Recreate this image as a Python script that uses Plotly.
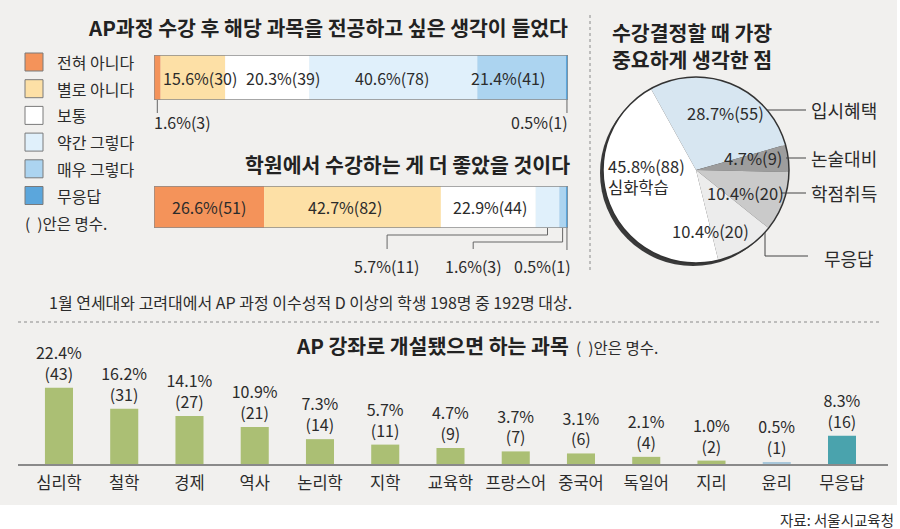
import numpy as np
import plotly.graph_objects as go

W, H = 900, 529
FONT = "Noto Sans CJK KR"
TXT = "#2b2b2b"

# ---- data ----
answer_cats = ["전혀 아니다", "별로 아니다", "보통", "약간 그렇다", "매우 그렇다", "무응답"]
major_pct = [1.6, 15.6, 20.3, 40.6, 21.4, 0.5]
major_n = [3, 30, 39, 78, 41, 1]
academy_pct = [26.6, 42.7, 22.9, 5.7, 1.6, 0.5]
academy_n = [51, 82, 44, 11, 3, 1]

reason_labels = ["입시혜택", "논술대비", "학점취득", "무응답", "심화학습"]
reason_pct = [28.7, 4.7, 10.4, 10.4, 45.8]
reason_n = [55, 9, 20, 20, 88]

subjects = ["심리학", "철학", "경제", "역사", "논리학", "지학", "교육학",
            "프랑스어", "중국어", "독일어", "지리", "윤리", "무응답"]
subject_pct = [22.4, 16.2, 14.1, 10.9, 7.3, 5.7, 4.7, 3.7, 3.1, 2.1, 1.0, 0.5, 8.3]
subject_n = [43, 31, 27, 21, 14, 11, 9, 7, 6, 4, 2, 1, 16]

# ---- styles ----
answer_colors = ["#f4935a", "#fde0a6", "#ffffff", "#e0f0fb", "#acd4f0", "#5ba6dc"]
reason_colors = ["#d7e6f1", "#9d9d9d", "#cacaca", "#ececec", "#ffffff"]
subject_colors = ["#abbf74"] * 11 + ["#a9c8db", "#4aa3ad"]

BAR_L, BAR_R = 154, 568   # pixel span of the stacked bars


def px(x):
    return x / W


def py(y):
    return 1 - y / H


def bx(v):
    # percent position on the stacked bars -> paper x
    return px(BAR_L + v / 100 * (BAR_R - BAR_L))


fig = go.Figure()
shapes = []
ann = []


def note(text, x, y, size=16, xref="paper", yref="paper", xanchor="center",
         align="center", color=TXT):
    ann.append(dict(text=text, x=x, y=y, xref=xref, yref=yref, xanchor=xanchor,
                    yanchor="middle", align=align, showarrow=False,
                    font=dict(family=FONT, size=size, color=color)))


# background panel
shapes.append(dict(type="rect", xref="paper", yref="paper", x0=0, x1=px(897),
                   y0=py(505), y1=1, fillcolor="#f1f0ee", line_width=0, layer="below"))

# ---- stacked horizontal bars ----
bar_specs = [
    # pct, counts, axis suffix, top px, bottom px, label nudges
    (major_pct, major_n, "", 55, 100, [0, 1.7, 3.9, -0.3, -3.3, 0]),
    (academy_pct, academy_n, "2", 186, 228, [0, -1.8, 0.4, 0, 0, 0]),
]
for pct, cnt, sfx, top, bot, nudge in bar_specs:
    pct = np.array(pct)
    starts = np.concatenate([[0], np.cumsum(pct)[:-1]])
    fig.add_trace(go.Bar(x=pct, base=starts, y=[0] * len(pct), orientation="h",
                         width=1, marker=dict(color=answer_colors, line_width=0),
                         xaxis="x" + sfx, yaxis="y" + sfx, hoverinfo="skip",
                         showlegend=False))
    fig.update_layout(**{
        "xaxis" + sfx: dict(domain=[px(BAR_L), px(BAR_R)], range=[0, 100], visible=False,
                            anchor="y" + sfx, fixedrange=True),
        "yaxis" + sfx: dict(domain=[py(bot), py(top)], range=[-0.5, 0.5], visible=False,
                            anchor="x" + sfx, fixedrange=True),
    })
    shapes.append(dict(type="rect", xref="x" + sfx, yref="y" + sfx, x0=0, x1=pct.sum(),
                       y0=-0.5, y1=0.5, line=dict(color="#8a8a8a", width=1.3)))
    for i, (p, n) in enumerate(zip(pct, cnt)):
        if p >= 10:
            note(f"{p}%({n})", starts[i] + p / 2 + nudge[i], 0,
                 xref="x" + sfx, yref="y" + sfx)

# leaders, first bar
mp = np.array(major_pct)
ms = np.concatenate([[0], np.cumsum(mp)[:-1]])
mid0 = ms[0] + mp[0] / 2
mid5 = ms[5] + mp[5] / 2
for m in (mid0, mid5):
    shapes.append(dict(type="line", xref="paper", yref="paper", x0=bx(m), x1=bx(m),
                       y0=py(100), y1=py(113), line=dict(color="#666", width=1)))
note(f"{major_pct[0]}%({major_n[0]})", bx(-0.6), py(122), xanchor="left")
note(f"{major_pct[5]}%({major_n[5]})", bx(100.6), py(122), xanchor="right")

# leaders, second bar
ap = np.array(academy_pct)
ast = np.concatenate([[0], np.cumsum(ap)[:-1]])
leaders = [(3, 235, 56.3), (4, 242, 77.1)]
for i, elbow, lx in leaders:
    m = ast[i] + ap[i] / 2
    shapes.append(dict(type="path", xref="paper", yref="paper",
                       path=(f"M {bx(m)},{py(228)} L {bx(m)},{py(elbow)} "
                             f"L {bx(lx)},{py(elbow)} L {bx(lx)},{py(249)}"),
                       line=dict(color="#666", width=1)))
    note(f"{academy_pct[i]}%({academy_n[i]})", bx(lx), py(266))
m5 = ast[5] + ap[5] / 2
shapes.append(dict(type="line", xref="paper", yref="paper", x0=bx(m5), x1=bx(m5),
                   y0=py(228), y1=py(250), line=dict(color="#666", width=1)))
note(f"{academy_pct[5]}%({academy_n[5]})", bx(101.2), py(266), xanchor="right")

# titles top-left
note("<b>AP과정 수강 후 해당 과목을 전공하고 싶은 생각이 들었다</b>", px(570), py(27),
     size=20.5, xanchor="right", color="#222")
note("<b>학원에서 수강하는 게 더 좋았을 것이다</b>", px(572), py(164),
     size=20.5, xanchor="right", color="#222")

# legend
for i, (cat, col) in enumerate(zip(answer_cats, answer_colors)):
    yc = 62 + i * 26.7
    shapes.append(dict(type="rect", xref="paper", yref="paper", x0=px(25), x1=px(43),
                       y0=py(yc + 9), y1=py(yc - 9), fillcolor=col,
                       line=dict(color="#7a7a7a", width=1)))
    note(cat, px(55), py(yc), xanchor="left")
note("(  )안은 명수.", px(23), py(223), size=15.5, xanchor="left")

note("1월 연세대와 고려대에서 AP 과정 이수성적 D 이상의 학생 198명 중 192명 대상.",
     px(47), py(302), size=16, xanchor="left")

# dividers
shapes.append(dict(type="line", xref="paper", yref="paper", x0=px(590), x1=px(590),
                   y0=py(270), y1=py(14), line=dict(color="#8a8a8a", width=1, dash="dot")))
shapes.append(dict(type="line", xref="paper", yref="paper", x0=px(18), x1=px(882),
                   y0=py(322), y1=py(322), line=dict(color="#8a8a8a", width=1, dash="dot")))

# ---- pie ----
shapes.append(dict(type="circle", xref="paper", yref="paper", x0=px(600), x1=px(786),
                   y0=py(266), y1=py(80), fillcolor="#3a3a3a", line_width=0, layer="below"))
fig.add_trace(go.Pie(values=reason_pct, labels=reason_labels, sort=False,
                     direction="clockwise", rotation=-29,
                     marker=dict(colors=reason_colors, line=dict(width=0)),
                     textinfo="none", hoverinfo="skip", showlegend=False,
                     domain=dict(x=[px(603), px(789)], y=[py(263), py(77)])))
shapes.append(dict(type="circle", xref="paper", yref="paper", x0=px(603), x1=px(789),
                   y0=py(263), y1=py(77), line=dict(color="#333", width=1.5)))

note("<b>수강결정할 때 가장<br>중요하게 생각한 점</b>", px(610), py(45), size=20.5,
     xanchor="left", align="left", color="#222")

pie_inner = [(725, 113), (753, 158), (745, 193), (710, 231)]
for (x, y), p, n in zip(pie_inner, reason_pct[:4], reason_n[:4]):
    note(f"{p}%({n})", px(x), py(y), size=16.5)
note(f"{reason_pct[4]}%({reason_n[4]})<br>{reason_labels[4]}", px(606), py(176),
     size=16.5, xanchor="left", align="left")

pie_out = [(110, 767), (158, 786), (193, 781)]
for (y, x0), lab in zip(pie_out, reason_labels[:3]):
    shapes.append(dict(type="line", xref="paper", yref="paper", x0=px(x0), x1=px(806),
                       y0=py(y), y1=py(y), line=dict(color="#444", width=1)))
    note(lab, px(809), py(y), size=18, xanchor="left")
shapes.append(dict(type="path", xref="paper", yref="paper",
                   path=f"M {px(765)},{py(232)} L {px(765)},{py(256)} L {px(808)},{py(256)}",
                   line=dict(color="#444", width=1)))
note(reason_labels[3], px(822), py(258), size=18, xanchor="left")

# ---- bottom bar chart ----
fig.add_trace(go.Bar(x=subjects, y=subject_pct, width=0.43,
                     marker=dict(color=subject_colors, line_width=0),
                     text=[f"{p}%<br>({n})" for p, n in zip(subject_pct, subject_n)],
                     textposition="outside", constraintext="none", cliponaxis=False,
                     textfont=dict(family=FONT, size=16, color=TXT),
                     xaxis="x3", yaxis="y3", hoverinfo="skip", showlegend=False))
fig.update_layout(
    xaxis3=dict(domain=[px(18), px(888)], type="category", range=[-0.628, 12.705],
                showline=True, linecolor="#8a8a8a", linewidth=1.5, ticks="",
                showgrid=False, tickfont=dict(family=FONT, size=16.5, color=TXT),
                ticklabelstandoff=3, anchor="y3", fixedrange=True),
    yaxis3=dict(domain=[py(464), py(350)], range=[0, 33.5], visible=False,
                anchor="x3", fixedrange=True),
)
note("<b>AP 강좌로 개설됐으면 하는 과목</b>", px(294), py(345), size=20.5,
     xanchor="left", color="#222")
note("(  )안은 명수.", px(574), py(347), size=15.5, xanchor="left")

note("자료: 서울시교육청", px(896), py(519), size=14.5, xanchor="right")

fig.update_layout(
    width=W, height=H, margin=dict(l=0, r=0, t=0, b=0),
    paper_bgcolor="#ffffff", plot_bgcolor="rgba(0,0,0,0)",
    shapes=shapes, annotations=ann, showlegend=False,
    font=dict(family=FONT, color=TXT),
)

# drop the browser's default 8px body margin so the figure sits at the page corner
fig.write_html("out.html", config={"displayModeBar": False},
               post_script="document.body.style.margin='0px';")
